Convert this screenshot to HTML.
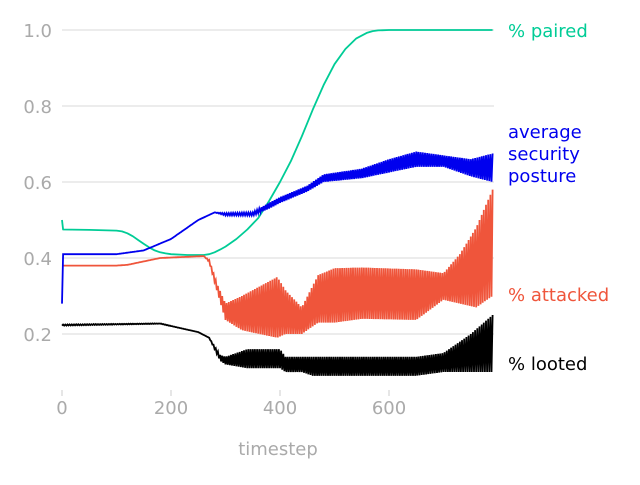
<!DOCTYPE html>
<html><head><meta charset="utf-8"><style>
body{margin:0;background:#fff}
svg text{font-family:"DejaVu Sans","Liberation Sans",sans-serif}
</style></head><body>
<svg id="c" width="640" height="480" xmlns="http://www.w3.org/2000/svg"></svg>
<script>
const xTicks=[0,200,400,600];
const yTicks=[0.2,0.4,0.6,0.8,1.0];
const tPaired=[0,2,50,100,110,120,130,140,150,160,170,180,190,200,230,260,270,280,290,300,320,340,360,380,400,420,440,460,480,500,520,540,560,570,580,600,650,790];
const vPaired=[0.5,0.475,0.474,0.472,0.47,0.465,0.457,0.447,0.437,0.428,0.42,0.415,0.412,0.41,0.408,0.408,0.41,0.415,0.422,0.43,0.45,0.475,0.505,0.55,0.6,0.655,0.72,0.79,0.855,0.91,0.95,0.978,0.993,0.997,0.999,1.0,1.0,1.0];
const tSec=[0,2,50,100,150,200,250,280,300,350,380,400,450,480,550,600,650,700,750,790];
const secLo=[0.28,0.41,0.41,0.41,0.42,0.45,0.50,0.52,0.512,0.512,0.53,0.545,0.575,0.60,0.61,0.625,0.64,0.64,0.615,0.60];
const secHi=[0.43,0.41,0.41,0.41,0.42,0.45,0.50,0.52,0.518,0.52,0.545,0.56,0.59,0.62,0.635,0.66,0.68,0.67,0.66,0.675];
const tAtt=[0,100,120,180,260,270,285,300,330,395,410,440,470,500,550,650,700,730,760,790];
const attLo=[0.38,0.38,0.382,0.4,0.405,0.39,0.31,0.237,0.21,0.19,0.2,0.2,0.23,0.23,0.24,0.237,0.29,0.28,0.27,0.30];
const attHi=[0.38,0.38,0.382,0.4,0.405,0.395,0.33,0.28,0.30,0.35,0.315,0.27,0.355,0.373,0.375,0.37,0.36,0.41,0.48,0.58];
const tLoot=[0,180,250,270,290,300,340,400,410,440,460,650,700,750,790];
const lootLo=[0.222,0.227,0.205,0.19,0.13,0.12,0.11,0.11,0.10,0.10,0.09,0.09,0.10,0.10,0.10];
const lootHi=[0.225,0.228,0.205,0.19,0.145,0.14,0.16,0.16,0.14,0.14,0.14,0.14,0.15,0.20,0.25];

const svg=document.getElementById('c');const NS='http://www.w3.org/2000/svg';
const X=t=>62+t*0.545, Y=v=>410-v*380;
function mk(tag,at,name){const e=document.createElementNS(NS,tag);for(const k in at)e.setAttribute(k,at[k]);


svg.appendChild(e);return e;}
function interp(ts,vs,t){for(let i=1;i<ts.length;i++){if(t<=ts[i]){const f=(t-ts[i-1])/(ts[i]-ts[i-1]);return vs[i-1]+f*(vs[i]-vs[i-1]);}}return vs[vs.length-1];}
yTicks.forEach(v=>{mk('line',{x1:62,x2:494,y1:Y(v),y2:Y(v),stroke:'#e6e6e6','stroke-width':1.5},'y-gridline');
 const t=mk('text',{x:52,y:Y(v)+7,'text-anchor':'end','font-size':18,fill:'#aaa'},'y-tick-label');t.textContent=v.toFixed(1);});
xTicks.forEach(v=>{mk('line',{x1:X(v),x2:X(v),y1:390,y2:396,stroke:'#ccc'},'x-tick');
 const t=mk('text',{x:X(v),y:414,'text-anchor':'middle','font-size':18,fill:'#aaa'},'x-tick-label');t.textContent=v;});
const xt=mk('text',{x:278,y:455,'text-anchor':'middle','font-size':18,fill:'#aaa'},'x-axis-title');xt.textContent='timestep';
function line(ts,vs,col,name){let d='';ts.forEach((t,i)=>{d+=(i?'L':'M')+X(t).toFixed(1)+','+Y(vs[i]).toFixed(1)});
 mk('path',{d,fill:'none',stroke:col,'stroke-width':1.8,'stroke-linejoin':'round'},name);}
function osc(ts,lo,hi,col,name){let d='';let k=0;const end=ts[ts.length-1];
 for(let t=0;t<=end;t+=2,k++){const v=(k%2)?interp(ts,hi,t):interp(ts,lo,t);d+=(k?'L':'M')+X(t).toFixed(1)+','+Y(v).toFixed(1);}
 mk('path',{d,fill:'none',stroke:col,'stroke-width':1.8},name);}
line(tPaired,vPaired,'#00cc96','paired-line');
osc(tAtt,attLo,attHi,'#ef553b','attacked-line');
osc(tLoot,lootLo,lootHi,'#000','looted-line');
osc(tSec,secLo,secHi,'#0000ee','security-line');
function lab(txt,y,col,name){const t=mk('text',{x:508,y,'font-size':18,fill:col},name);t.textContent=txt;}
lab('% paired',37,'#00cc96','paired-label');
lab('average',138,'#0000ee','security-label-1');lab('security',160,'#0000ee','security-label-2');lab('posture',182,'#0000ee','security-label-3');
lab('% attacked',301,'#ef553b','attacked-label');
lab('% looted',370,'#000','looted-label');
</script>
</body></html>
